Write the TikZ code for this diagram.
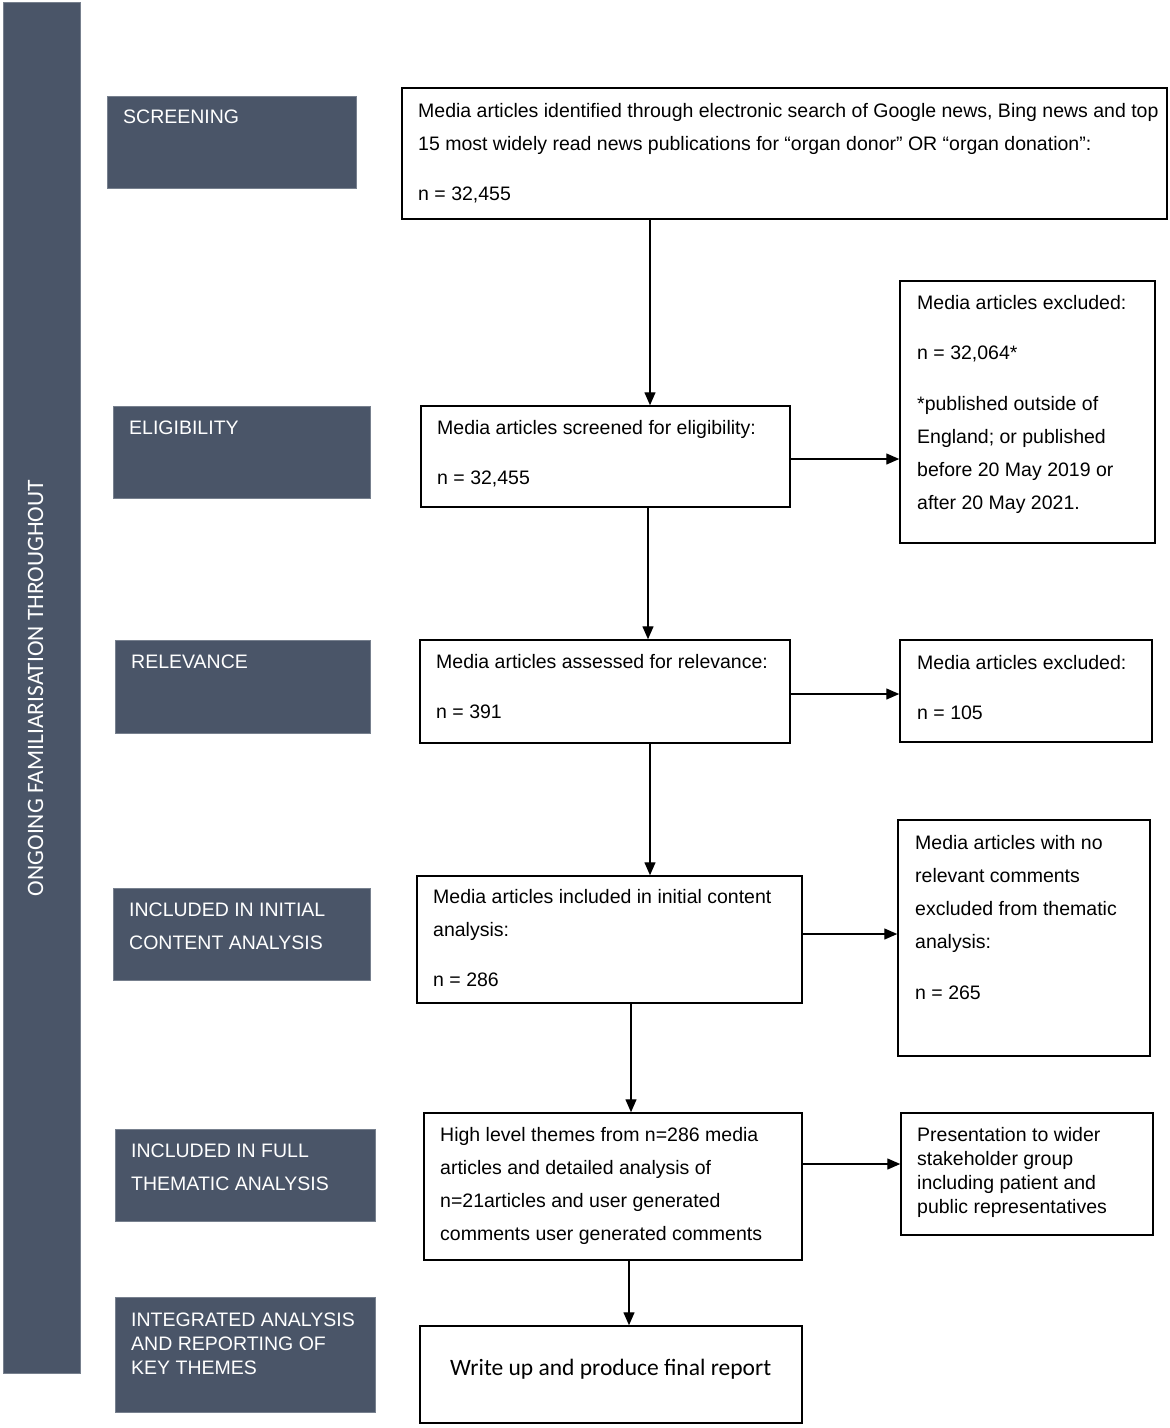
\documentclass[tikz,border=0pt]{standalone}
\usepackage{fontspec}
\setmainfont{Liberation Sans}
\newfontfamily\carlito{Carlito}
\usetikzlibrary{arrows.meta}
\definecolor{slate}{RGB}{74,85,104}
\newcommand\strutA{\rule{0pt}{20pt}}
\begin{document}
\begin{tikzpicture}[x=1pt,y=-1pt,
 box/.style={draw=black, line width=1.5pt, fill=white, inner sep=0pt},
 lab/.style={fill=slate, draw=slate!75!white, line width=0.8pt, inner sep=0pt},
 txt/.style={anchor=north west, inner sep=0pt, align=left, font=\fontsize{19.5}{33}\selectfont},
 tighttxt/.style={txt, font=\fontsize{19.5}{24}\selectfont},
 ltxt/.style={txt, text=white},
 ltighttxt/.style={tighttxt, text=white},
 arr/.style={line width=1.4pt, -{Triangle[length=13pt,width=11pt]}}]
\useasboundingbox (0,0) rectangle (1170,1428);

% sidebar
\node[lab, minimum width=77pt, minimum height=1371pt] (side) at (41.5,687.5) {};
\node[rotate=90, text=white, inner sep=0pt, font=\carlito\fontsize{23.5}{28}\selectfont] (sidet) at (35.5,688) {ONGOING FAMILIARISATION THROUGHOUT};

% stage labels
\node[lab, minimum width=249pt, minimum height=92pt] (l1) at (231.5,142) {};
\node[lab, minimum width=257pt, minimum height=92pt] (l2) at (241.5,452) {};
\node[lab, minimum width=255pt, minimum height=93pt] (l3) at (242.5,686.5) {};
\node[lab, minimum width=257pt, minimum height=92pt] (l4) at (241.5,934) {};
\node[lab, minimum width=260pt, minimum height=92pt] (l5) at (245,1175) {};
\node[lab, minimum width=260pt, minimum height=115pt] (l6) at (245,1354.5) {};
\node[ltxt] (l1t) at (123,103) {\strutA SCREENING};
\node[ltxt] (l2t) at (129,414) {\strutA ELIGIBILITY};
\node[ltxt] (l3t) at (131,648) {\strutA RELEVANCE};
\node[ltxt] (l4t) at (129,896) {\strutA INCLUDED IN INITIAL\\CONTENT ANALYSIS};
\node[ltxt] (l5t) at (131,1137) {\strutA INCLUDED IN FULL\\THEMATIC ANALYSIS};
\node[ltighttxt] (l6t) at (131,1306) {\strutA INTEGRATED ANALYSIS\\AND REPORTING OF\\KEY THEMES};

% main boxes
\node[box, minimum width=765pt, minimum height=131pt] (b1) at (784.5,153.5) {};
\node[box, minimum width=369pt, minimum height=101pt] (b2) at (605.5,456.5) {};
\node[box, minimum width=370pt, minimum height=103pt] (b3) at (605,691.5) {};
\node[box, minimum width=385pt, minimum height=127pt] (b4) at (609.5,939.5) {};
\node[box, minimum width=378pt, minimum height=147pt] (b5) at (613,1186.5) {};
\node[box, minimum width=382pt, minimum height=97pt] (b6) at (611,1374.5) {};

\node[txt] (b1t) at (418,97) {\strutA Media articles identified through electronic search of Google news, Bing news and top\\15 most widely read news publications for “organ donor” OR “organ donation”:\\[17pt]n = 32,455};
\node[txt] (b2t) at (437,414) {\strutA Media articles screened for eligibility:\\[17pt]n = 32,455};
\node[txt] (b3t) at (436,648) {\strutA Media articles assessed for relevance:\\[17pt]n = 391};
\node[txt] (b4t) at (433,883) {\strutA Media articles included in initial content\\analysis:\\[17pt]n = 286};
\node[txt] (b5t) at (440,1121) {\strutA High level themes from n=286 media\\articles and detailed analysis of\\n=21articles and user generated\\comments user generated comments};
\node[txt, font=\carlito\fontsize{23.5}{28}\selectfont] (b6t) at (450,1355) {\strutA Write up and produce final report};

% right boxes
\node[box, minimum width=255pt, minimum height=262pt] (r1) at (1027.5,412) {};
\node[box, minimum width=252pt, minimum height=102pt] (r2) at (1026,691) {};
\node[box, minimum width=252pt, minimum height=236pt] (r3) at (1024,938) {};
\node[box, minimum width=252pt, minimum height=122pt] (r4) at (1027,1174) {};

\node[txt] (r1t) at (917,289) {\strutA Media articles excluded:\\[17pt]n = 32,064*\\[18pt]*published outside of\\England; or published\\before 20 May 2019 or\\after 20 May 2021.};
\node[txt] (r2t) at (917,649) {\strutA Media articles excluded:\\[17pt]n = 105};
\node[txt] (r3t) at (915,829) {\strutA Media articles with no\\relevant comments\\excluded from thematic\\analysis:\\[18pt]n = 265};
\node[tighttxt] (r4t) at (917,1121) {\strutA Presentation to wider\\stakeholder group\\including patient and\\public representatives};

% connector guides
\coordinate (v1) at (650,0);
\coordinate (v2) at (648,0);
\coordinate (v3) at (650,0);
\coordinate (v4) at (631,0);
\coordinate (v5) at (629,0);
\coordinate (h1) at (0,459);
\coordinate (h2) at (0,694);
\coordinate (h3) at (0,934);
\coordinate (h4) at (0,1164);

\draw[arr] (b1.south -| v1) -- (b2.north -| v1);
\draw[arr] (b2.south -| v2) -- (b3.north -| v2);
\draw[arr] (b3.south -| v3) -- (b4.north -| v3);
\draw[arr] (b4.south -| v4) -- (b5.north -| v4);
\draw[arr] (b5.south -| v5) -- (b6.north -| v5);
\draw[arr] (b2.east |- h1) -- (r1.west |- h1);
\draw[arr] (b3.east |- h2) -- (r2.west |- h2);
\draw[arr] (b4.east |- h3) -- (r3.west |- h3);
\draw[arr] (b5.east |- h4) -- (r4.west |- h4);
\end{tikzpicture}
\end{document}
